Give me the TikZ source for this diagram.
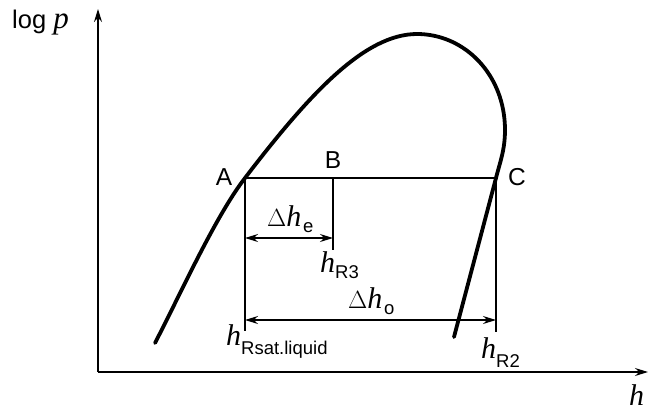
\documentclass[tikz,border=0pt]{standalone}
\usepackage{fontspec}
\setmainfont{Liberation Sans}
\newfontfamily\seriff{Liberation Serif}
\usetikzlibrary{arrows.meta}
\tikzset{
  thin line/.style={line width=1.4pt},
  curve/.style={line width=3.8pt, line cap=round, line join=round},
  axisarrow/.style={line width=1.4pt, -{Stealth[length=13pt,width=8pt]}},
  dimarrow/.style={line width=1.4pt, {Stealth[length=13pt,width=8pt]}-{Stealth[length=13pt,width=8pt]}},
  lbl/.style={inner sep=0pt, font=\fontsize{24.5}{27}\selectfont},
  txt/.style={inner sep=0pt, anchor=base west},
}
\newcommand{\hh}{{\fontsize{30}{32}\selectfont\seriff\itshape h}}
\newcommand{\DD}{{\fontsize{24}{26}\selectfont\seriff $\Delta$}}
\newcommand{\subs}[1]{{\fontsize{18.5}{20}\selectfont #1}}
\begin{document}
\begin{tikzpicture}[x=1pt,y=-1pt]
\useasboundingbox (0,0) rectangle (649,410);
% axes
\coordinate (O) at (98,372);
\coordinate (ytip) at (98,9);
\coordinate (xtip) at (648,372);
\draw[axisarrow] (O) -- (ytip);
\draw[axisarrow] (O) -- (xtip);
\node[txt] (logp) at (12,28) {{\fontsize{25.5}{27}\selectfont log }{\fontsize{31}{32}\selectfont\seriff\itshape p}};
\node[txt] (hax) at (629,405) {\hh};
% points
\coordinate (S) at (155,343);
\coordinate (A) at (245,178);
\coordinate (P) at (417,34);
\coordinate (R) at (505,130);
\coordinate (B) at (333,178);
\coordinate (C) at (496,178);
\coordinate (E) at (454,337);
% saturation curve
\draw[curve] (S) .. controls (180,295) and (215,217) .. (A)
  .. controls (310,93) and (365,34) .. (P)
  .. controls (465,34) and (505,75) .. (R)
  .. controls (505,150) and (500,162) .. (C)
  -- (E);
\coordinate (Abot) at (245,331);
\coordinate (Bbot) at (333,250);
\coordinate (Cbot) at (496,332);
\draw[thin line] (A) -- (C);
\draw[thin line] (A) -- (Abot);
\draw[thin line] (B) -- (Bbot);
\draw[thin line] (C) -- (Cbot);
\coordinate (e1) at (245,238);
\coordinate (e2) at (333,238);
\coordinate (o1) at (245,320);
\coordinate (o2) at (496,320);
\draw[dimarrow] (e1) -- (e2);
\draw[dimarrow] (o1) -- (o2);
% labels
\node[lbl] (lA) at (224,177) {A};
\node[lbl] (lB) at (333,160) {B};
\node[lbl] (lC) at (517,177) {C};
\node[txt] (dhe) at (267,226) {\DD\hh\,\raisebox{-6pt}{\subs{e}}};
\node[txt] (hR3) at (320,272) {\hh\raisebox{-6pt}{\subs{R3}}};
\node[txt] (dho) at (348,308) {\DD\hh\,\raisebox{-6pt}{\subs{o}}};
\node[txt] (hRs) at (226,345) {\hh\raisebox{-9pt}{\subs{Rsat.liquid}}};
\node[txt] (hR2) at (481,358) {\hh\raisebox{-9pt}{\subs{R2}}};
\end{tikzpicture}
\end{document}
